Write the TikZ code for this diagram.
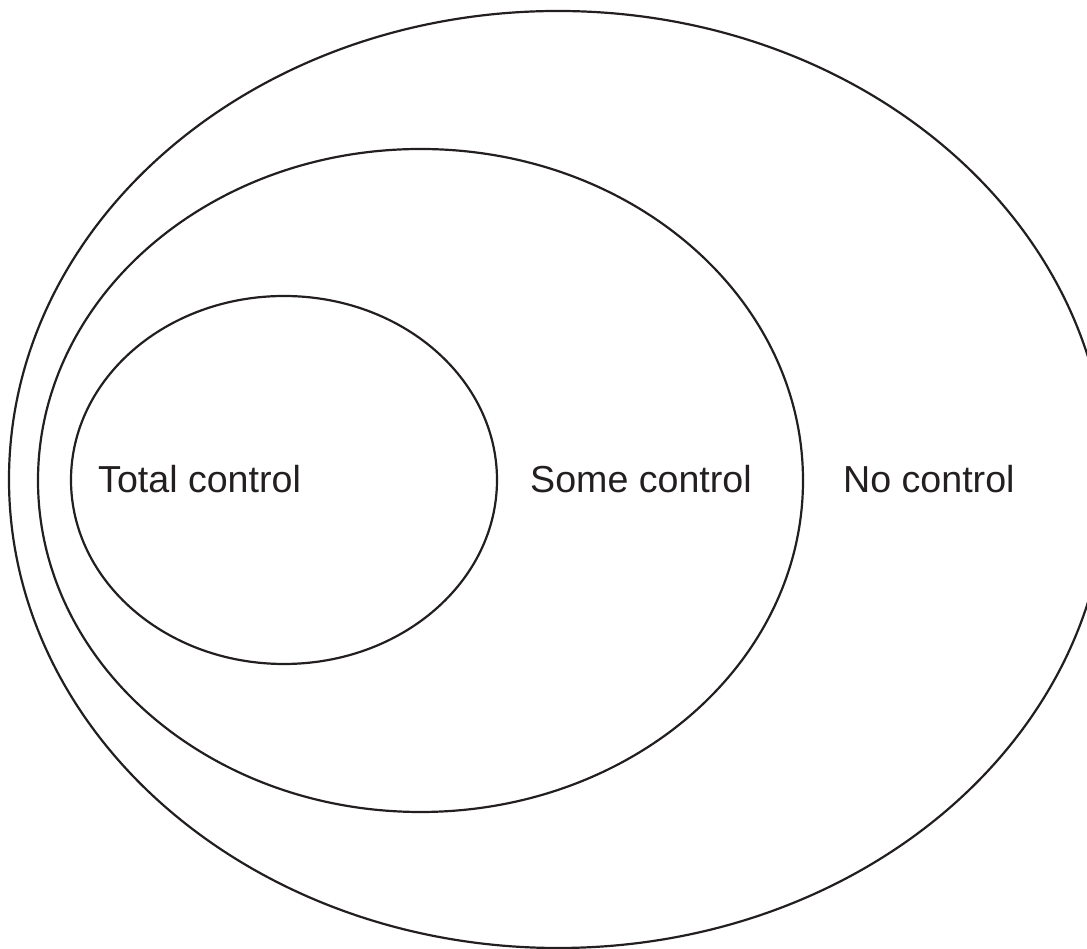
\documentclass[tikz,border=0pt]{standalone}
\usepackage{fontspec}
\setmainfont{Liberation Sans}
\definecolor{ink}{HTML}{231F20}
\begin{document}
\begin{tikzpicture}[x=1pt,y=1pt,
  ring/.style={draw=ink,line width=2.2pt},
  lbl/.style={font=\fontsize{37.6}{40}\selectfont,text=ink,anchor=base west,inner sep=0pt}]
\useasboundingbox (0,0) rectangle (1087,949);
\begin{scope}
\clip (0,0) rectangle (1087,949);
\draw[ring] (558,469.5) ellipse [x radius=549, y radius=468.5];
\end{scope}
\draw[ring] (420.5,468.5) ellipse [x radius=382.5, y radius=331.5];
\draw[ring] (284,469) ellipse [x radius=213, y radius=184];
\node[lbl] (total) at (98,456) {Total control};
\node[lbl] (some) at (530,456) {Some control};
\node[lbl] (none) at (843,456) {No control};
\end{tikzpicture}
\end{document}
